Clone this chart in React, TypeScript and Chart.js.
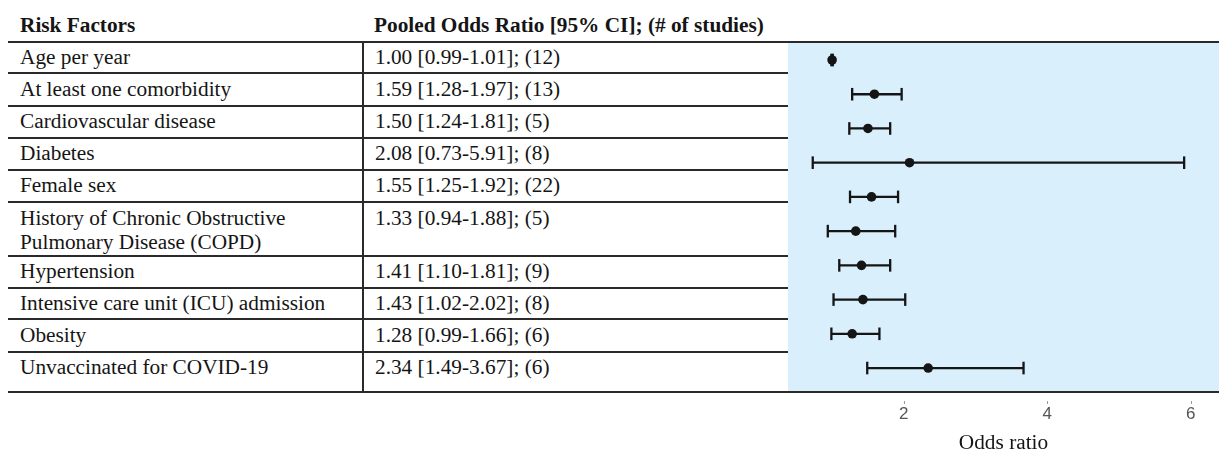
import React, { useEffect, useRef } from 'react';
import { Chart, registerables } from 'chart.js';

Chart.register(...registerables);

// ---- data ----
const riskFactors = [
  'Age per year',
  'At least one comorbidity',
  'Cardiovascular disease',
  'Diabetes',
  'Female sex',
  'History of Chronic Obstructive\nPulmonary Disease (COPD)',
  'Hypertension',
  'Intensive care unit (ICU) admission',
  'Obesity',
  'Unvaccinated for COVID-19',
];
const oddsRatios = [1.0, 1.59, 1.5, 2.08, 1.55, 1.33, 1.41, 1.43, 1.28, 2.34];
const ciLower = [0.99, 1.28, 1.24, 0.73, 1.25, 0.94, 1.1, 1.02, 0.99, 1.49];
const ciUpper = [1.01, 1.97, 1.81, 5.91, 1.92, 1.88, 1.81, 2.02, 1.66, 3.67];
const studyCounts = [12, 13, 5, 8, 22, 5, 9, 8, 6, 6];
const xTicks = [2, 4, 6];

const headerLabels = ['Risk Factors', 'Pooled Odds Ratio [95% CI]; (# of studies)'];
const xAxisTitle = 'Odds ratio';

// ---- layout (not data) ----
const rowLineY = [41.7, 73.4, 105.5, 137.5, 170, 202.3, 255.7, 287.5, 319.3, 351.7, 391.7];

const SERIF = "'Liberation Serif', 'Times New Roman', Times, serif";
const SANS = "'Liberation Sans', Arial, Helvetica, sans-serif";
const INK = '#151515';
const LINE = '#2a2a2a';
const PANEL_BG = '#d9effc';

const fmt = (v: number) => v.toFixed(2);

const bgPlugin = {
  id: 'panelBg',
  beforeDraw(chart: any) {
    const { ctx, chartArea: a } = chart;
    ctx.save();
    ctx.fillStyle = PANEL_BG;
    ctx.fillRect(a.left, a.top, a.right - a.left, a.bottom - a.top);
    ctx.restore();
  },
};

const tickDotPlugin = {
  id: 'tickDots',
  afterDraw(chart: any) {
    const { ctx, chartArea: a } = chart;
    const xs = chart.scales.x;
    ctx.save();
    ctx.strokeStyle = '#9a9a9a';
    ctx.lineWidth = 1;
    xs.ticks.forEach((t: any) => {
      const px = Math.round(xs.getPixelForValue(t.value)) + 0.5;
      ctx.beginPath();
      ctx.moveTo(px, a.bottom + 9);
      ctx.lineTo(px, a.bottom + 12);
      ctx.stroke();
    });
    ctx.restore();
  },
};

function ForestChart() {
  const ref = useRef<HTMLCanvasElement | null>(null);
  useEffect(() => {
    if (!ref.current) return;
    const datasets: any[] = [
      {
        type: 'scatter',
        data: oddsRatios.map((v, i) => ({ x: v, y: i })),
        pointRadius: 4.8,
        pointHoverRadius: 4.8,
        backgroundColor: INK,
        borderWidth: 0,
        pointBorderWidth: 0,
        order: 0,
      },
      ...riskFactors.map((_, i) => ({
        type: 'line',
        data: [
          { x: ciLower[i], y: i },
          { x: ciUpper[i], y: i },
        ],
        borderColor: INK,
        borderWidth: 2.3,
        pointStyle: 'line',
        pointRotation: 90,
        pointRadius: 6.3,
        pointHoverRadius: 6.3,
        pointBorderWidth: 2.3,
        pointBorderColor: INK,
        fill: false,
        order: 1,
      })),
    ];
    const chart = new Chart(ref.current, {
      type: 'scatter',
      data: { datasets },
      options: {
        animation: false,
        responsive: false,
        maintainAspectRatio: false,
        events: [],
        layout: { padding: 0, autoPadding: false },
        plugins: { legend: { display: false }, tooltip: { enabled: false } },
        scales: {
          x: {
            type: 'linear',
            position: 'bottom',
            min: 0.385,
            max: 6.396,
            afterBuildTicks: (s: any) => {
              s.ticks = xTicks.map((v) => ({ value: v }));
            },
            afterFit: (s: any) => {
              s.height = 61;
            },
            grid: { display: false, drawTicks: false },
            border: { display: false },
            ticks: {
              padding: 12,
              color: '#555',
              maxRotation: 0,
              font: { family: SANS, size: 17 },
              callback: (v: any) => String(v),
            },
            title: {
              display: true,
              text: xAxisTitle,
              color: INK,
              font: { family: SERIF, size: 21.3, lineHeight: 0.94 },
              padding: 0,
            },
          },
          y: {
            type: 'linear',
            min: -0.526,
            max: 9.7,
            reverse: true,
            display: false,
          },
        },
      } as any,
      plugins: [bgPlugin, tickDotPlugin],
    });
    return () => chart.destroy();
  }, []);
  return (
    <canvas
      ref={ref}
      width={431}
      height={411}
      style={{ position: 'absolute', left: 788, top: 42, width: 431, height: 411 }}
    />
  );
}

export default function App() {
  const textBase: React.CSSProperties = {
    position: 'absolute',
    fontFamily: SERIF,
    fontSize: 21.3,
    lineHeight: '24px',
    color: INK,
    whiteSpace: 'pre',
    zIndex: 2,
  };
  const last = rowLineY.length - 1;
  return (
    <div
      style={{
        position: 'absolute',
        left: 0,
        top: 0,
        width: 1219,
        height: 453,
        background: '#fff',
        overflow: 'hidden',
      }}
    >
      <ForestChart />
      {/* header */}
      <div style={{ ...textBase, left: 20, top: 12.8, fontWeight: 'bold' }}>{headerLabels[0]}</div>
      <div style={{ ...textBase, left: 374, top: 12.8, fontWeight: 'bold' }}>{headerLabels[1]}</div>
      {/* horizontal rules */}
      {rowLineY.map((y, i) => (
        <div
          key={'h' + i}
          style={{
            position: 'absolute',
            left: 8,
            top: y - 1,
            width: i === 0 || i === last ? 1211 : 780,
            height: 2,
            background: LINE,
            zIndex: 3,
          }}
        />
      ))}
      {/* vertical rule */}
      <div
        style={{
          position: 'absolute',
          left: 361.7,
          top: rowLineY[0],
          width: 2,
          height: rowLineY[last] - rowLineY[0],
          background: LINE,
          zIndex: 3,
        }}
      />
      {/* rows */}
      {riskFactors.map((name, i) => (
        <React.Fragment key={'r' + i}>
          <div style={{ ...textBase, left: 20, top: rowLineY[i] + 3.3 }}>{name}</div>
          <div style={{ ...textBase, left: 375, top: rowLineY[i] + 3.3 }}>
            {`${fmt(oddsRatios[i])} [${fmt(ciLower[i])}-${fmt(ciUpper[i])}]; (${studyCounts[i]})`}
          </div>
        </React.Fragment>
      ))}
    </div>
  );
}
